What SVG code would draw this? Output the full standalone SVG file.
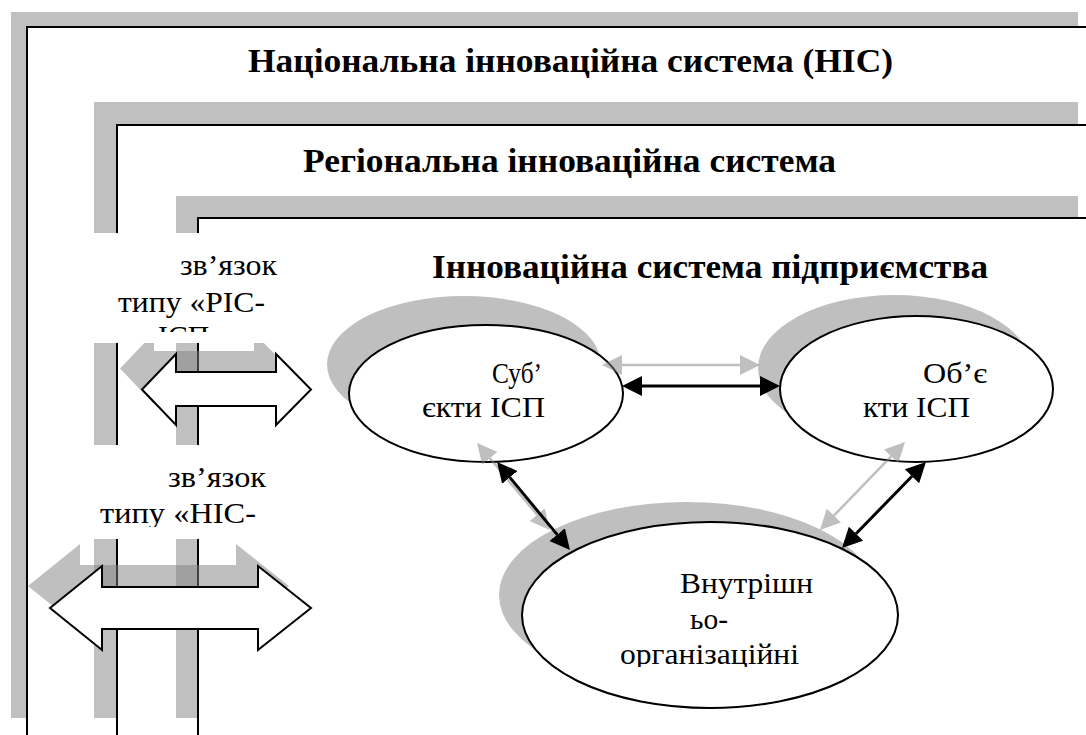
<svg xmlns="http://www.w3.org/2000/svg" width="1086" height="735" viewBox="0 0 1086 735">
<style>
.band{fill:#c0c0c0}
.ln{stroke:#000;stroke-width:2;fill:none}
.sh{fill:#808080;fill-opacity:.5}
.box{fill:#fff}
.barrow{fill:#fff;stroke:#000;stroke-width:2;stroke-linejoin:miter}
.node{fill:#fff;stroke:#000;stroke-width:2}
.title{font-family:'Liberation Serif','Times New Roman',serif;font-weight:bold;font-size:33px;fill:#000}
.lbl{font-family:'Liberation Serif','Times New Roman',serif;font-size:30px;fill:#000}
.cb{stroke:#000;stroke-width:3;fill:none}
.cg{stroke:#808080;stroke-opacity:.5;stroke-width:2.5;fill:none}
</style>
<defs>
<marker id="hb" viewBox="0 0 20 20" refX="0" refY="10" markerWidth="20" markerHeight="20" markerUnits="userSpaceOnUse" orient="auto-start-reverse"><path d="M0,0 L20,10 L0,20 z" fill="#000"/></marker>
<marker id="hg" viewBox="0 0 20 20" refX="0" refY="10" markerWidth="20" markerHeight="20" markerUnits="userSpaceOnUse" orient="auto-start-reverse"><path d="M0,0 L20,10 L0,20 z" fill="#808080" fill-opacity=".5"/></marker>
<clipPath id="clipA"><rect x="0" y="240" width="330" height="92"/></clipPath>
<clipPath id="clipB"><rect x="0" y="450" width="330" height="77"/></clipPath>
<clipPath id="clipC"><rect x="500" y="540" width="420" height="127"/></clipPath>
</defs>

<g id="frame-nis">
<rect class="band" x="11" y="12" width="1067" height="15"/>
<rect class="band" x="11" y="12" width="15" height="706"/>
<path class="ln" d="M27,735 V27 H1086"/>
<text class="title" x="248" y="72" textLength="645" lengthAdjust="spacingAndGlyphs">Національна інноваційна система (НІС)</text>
</g>

<g id="frame-ris">
<rect class="band" x="94" y="102" width="984" height="23"/>
<rect class="band" x="94" y="102" width="22" height="616"/>
<path class="ln" d="M117,735 V125 H1086"/>
<text class="title" x="303" y="172" textLength="533" lengthAdjust="spacingAndGlyphs">Регіональна інноваційна система</text>
</g>

<g id="frame-isp">
<rect class="band" x="176" y="196" width="902" height="22"/>
<rect class="band" x="176" y="196" width="21" height="522"/>
<path class="ln" d="M198,735 V218 H1086"/>
<text class="title" x="432" y="278" textLength="556" lengthAdjust="spacingAndGlyphs">Інноваційна система підприємства</text>
</g>

<g id="link-ris-isp">
<polygon class="sh" transform="translate(-22,-21)" points="142,389.5 176,354 176,372 276,372 276,354 311,389.5 276,425 276,406 176,406 176,425"/>
<rect class="box" x="40" y="233" width="275" height="110"/>
<polygon class="barrow" points="142,389.5 176,354 176,372 276,372 276,354 311,389.5 276,425 276,406 176,406 176,425"/>
<g clip-path="url(#clipA)">
<text class="lbl" x="180" y="275" textLength="97" lengthAdjust="spacingAndGlyphs">зв’язок</text>
<text class="lbl" x="118" y="312" textLength="147" lengthAdjust="spacingAndGlyphs">типу «РІС-</text>
<text class="lbl" x="158" y="346" textLength="66" lengthAdjust="spacingAndGlyphs">ІСП»</text>
</g>
</g>

<g id="link-nis">
<polygon class="sh" transform="translate(-22,-22)" points="50,608 102,566 102,587 258,587 258,566 311,608 258,650 258,629 102,629 102,650"/>
<rect class="box" x="40" y="445" width="275" height="94"/>
<polygon class="barrow" points="50,608 102,566 102,587 258,587 258,566 311,608 258,650 258,629 102,629 102,650"/>
<g clip-path="url(#clipB)">
<text class="lbl" x="168" y="487" textLength="98" lengthAdjust="spacingAndGlyphs">зв’язок</text>
<text class="lbl" x="100" y="523" textLength="156" lengthAdjust="spacingAndGlyphs">типу «НІС-</text>
</g>
</g>

<g id="node-subjects">
<ellipse class="sh" cx="464" cy="364.5" rx="137" ry="68.5"/>
<ellipse class="node" cx="486" cy="393.5" rx="137" ry="68.5"/>
<text class="lbl" x="492" y="383" textLength="50" lengthAdjust="spacingAndGlyphs">Суб’</text>
<text class="lbl" x="422" y="417" textLength="123" lengthAdjust="spacingAndGlyphs">єкти ІСП</text>
</g>

<g id="node-objects">
<ellipse class="sh" cx="894.5" cy="368" rx="136.5" ry="73"/>
<ellipse class="node" cx="916.5" cy="389" rx="136.5" ry="73"/>
<text class="lbl" x="923" y="383" textLength="64" lengthAdjust="spacingAndGlyphs">Об’є</text>
<text class="lbl" x="863" y="417" textLength="107" lengthAdjust="spacingAndGlyphs">кти ІСП</text>
</g>

<g id="node-internal">
<ellipse class="sh" cx="687" cy="595" rx="188" ry="93"/>
<ellipse class="node" cx="710" cy="615" rx="188" ry="93"/>
<g clip-path="url(#clipC)">
<text class="lbl" x="680" y="593" textLength="133" lengthAdjust="spacingAndGlyphs">Внутрішн</text>
<text class="lbl" x="690" y="629" textLength="38" lengthAdjust="spacingAndGlyphs">ьо-</text>
<text class="lbl" x="620" y="664" textLength="179" lengthAdjust="spacingAndGlyphs">організаційні</text>
</g>
</g>

<g id="connectors">
<line class="cg" x1="622" y1="365" x2="740" y2="365" marker-start="url(#hg)" marker-end="url(#hg)"/>
<line class="cb" x1="642" y1="386" x2="760" y2="386" marker-start="url(#hb)" marker-end="url(#hb)"/>
<line class="cg" x1="489.9" y1="458.3" x2="537.1" y2="514.7" marker-start="url(#hg)" marker-end="url(#hg)"/>
<line class="cb" x1="509.8" y1="477.4" x2="557.2" y2="534.6" marker-start="url(#hb)" marker-end="url(#hb)"/>
<line class="cg" x1="891.1" y1="456.4" x2="833.9" y2="515.6" marker-start="url(#hg)" marker-end="url(#hg)"/>
<line class="cb" x1="912" y1="476.3" x2="856" y2="533.7" marker-start="url(#hb)" marker-end="url(#hb)"/>
</g>
</svg>
